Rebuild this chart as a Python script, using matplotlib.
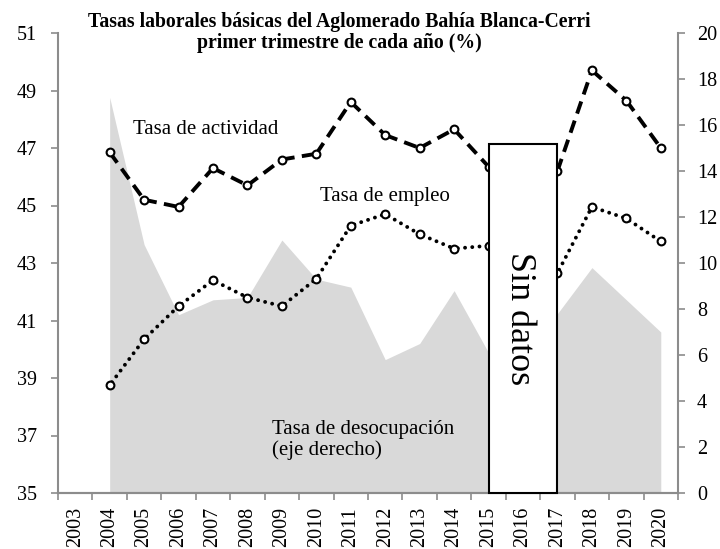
import matplotlib
matplotlib.use("Agg")
import matplotlib.pyplot as plt
import numpy as np

plt.rcParams['font.family'] = ['Liberation Serif', 'DejaVu Serif']

years = [str(y) for y in range(2003, 2021)]
# data years (2016 without data)
data_years = [2004, 2005, 2006, 2007, 2008, 2009, 2010, 2011, 2012, 2013, 2014, 2015, 2017, 2018, 2019, 2020]
actividad = [46.85, 45.2, 44.95, 46.3, 45.7, 46.6, 46.8, 48.6, 47.45, 47.0, 47.65, 46.35, 46.2, 49.7, 48.65, 47.0]
empleo = [38.75, 40.35, 41.5, 42.4, 41.8, 41.5, 42.45, 44.3, 44.7, 44.0, 43.5, 43.6, 42.65, 44.95, 44.55, 43.75]
desocupacion = [17.2, 10.8, 7.75, 8.4, 8.5, 11.0, 9.3, 8.95, 5.8, 6.5, 8.8, 6.1, 7.8, 9.8, 8.4, 7.0]

x = np.array([years.index(str(y)) for y in data_years])

fig = plt.figure(figsize=(7.2, 5.49), dpi=100)
ax = fig.add_axes([58/720, 1-493/549, (678-58)/720, (493-33)/549])
ax2 = ax.twinx()

gray = '#8c8c8c'
# area on right axis
ax2.fill_between(x, 0, desocupacion, color='#d9d9d9', lw=0, zorder=1)
ax2.set_ylim(0, 20)
ax2.set_yticks(range(0, 21, 2))

ax.set_zorder(ax2.get_zorder() + 1)
ax.patch.set_visible(False)

# lines drawn segment by segment so the dash pattern restarts at each point
lw = 2.8
for i in range(len(x) - 1):
    ax.plot(x[i:i+2], actividad[i:i+2], color='black', lw=lw, ls=(0, (3.3, 1.9)),
            dash_capstyle='butt', zorder=3)
    ax.plot(x[i:i+2], empleo[i:i+2], color='black', lw=lw, ls=(0.9, (0.01, 1.85)),
            dash_capstyle='round', zorder=3)
mk = dict(ls='none', marker='o', ms=5.6, mfc='white', mec='black', mew=1.5, zorder=4)
ax.plot(x, actividad, **mk)
ax.plot(x, empleo, **mk)

ax.set_xlim(-0.5, len(years) - 0.5)
ax.set_ylim(35, 51)
ax.set_yticks(range(35, 52, 2))
ax.set_xticks(np.arange(-0.5, len(years), 1.0))
ax.set_xticklabels([])
ax.set_xticks(np.arange(len(years)), minor=True)
ax.set_xticklabels(years, minor=True, rotation=90)

for a in (ax, ax2):
    for s in a.spines.values():
        s.set_color(gray)
        s.set_linewidth(1.5)
    a.spines['top'].set_visible(False)
    a.tick_params(axis='both', which='major', direction='out', length=5, width=1.2,
                  color=gray, labelsize=14.5)
ax.tick_params(axis='y', which='major', pad=10)
ax2.tick_params(axis='y', which='major', pad=8.5)
ax.tick_params(axis='x', which='minor', length=0, labelsize=14.5, pad=10)
ax2.spines['left'].set_visible(False)
ax.spines['right'].set_visible(False)

# Sin datos box
i15 = years.index('2015'); i17 = years.index('2017')
ax.add_patch(plt.Rectangle((i15, 35), i17 - i15, 47.15 - 35, facecolor='white',
                           edgecolor='black', lw=1.5, zorder=5, clip_on=False))
ax.text((i15 + i17) / 2 - 0.1, (35 + 47.15) / 2, 'Sin datos', rotation=-90, fontsize=26,
        ha='center', va='center', zorder=6)

ax.text(1.68, 47.63, 'Tasa de actividad', fontsize=15, ha='left', va='center', zorder=6)
ax.text(7.11, 45.3, 'Tasa de empleo', fontsize=15, ha='left', va='center', zorder=6)
ax.text(5.71, 36.84, 'Tasa de desocupación\n(eje derecho)', fontsize=15, ha='left',
        va='center', linespacing=1.12, zorder=6)

fig.text(0.471, 1 - 32.5/549, 'Tasas laborales básicas del Aglomerado Bahía Blanca-Cerri\nprimer trimestre de cada año (%)',
         ha='center', va='center', fontsize=14.2, fontweight='bold', linespacing=1.12)

fig.savefig('out.png', dpi=100)
